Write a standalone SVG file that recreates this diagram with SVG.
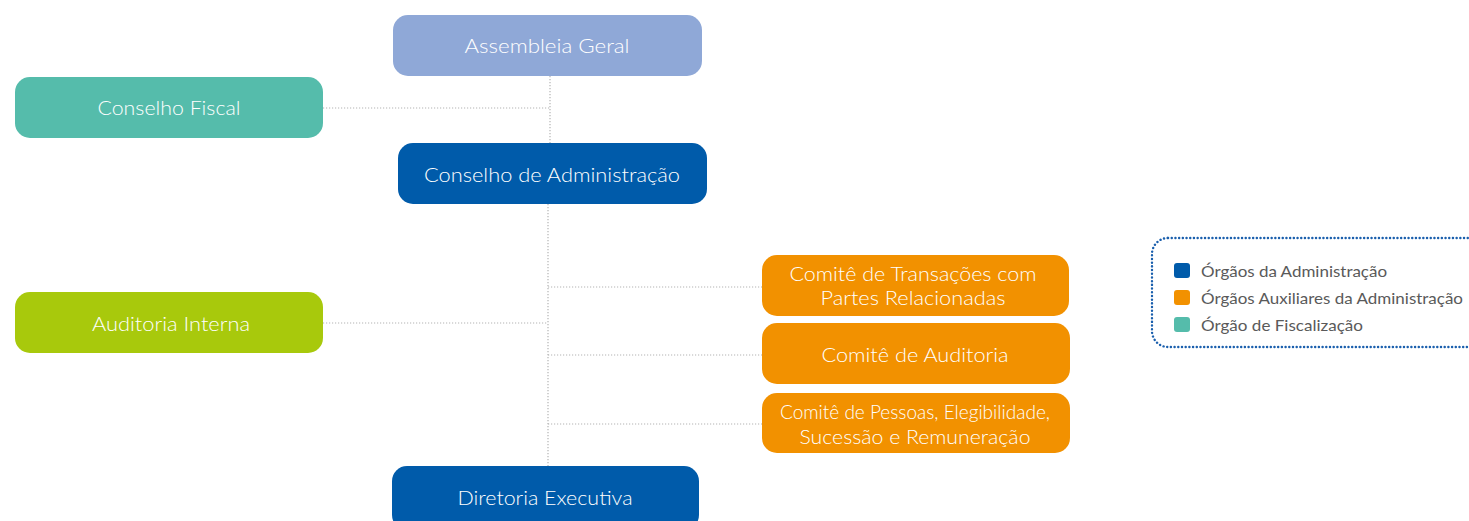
<svg xmlns="http://www.w3.org/2000/svg" width="1469" height="521" viewBox="0 0 1469 521">
<style>
.box text{font-family:Lato,"Noto Sans",sans-serif;font-size:20px;font-weight:300;fill:#fff;text-anchor:middle}
.conn line{stroke:#b3b3b3;stroke-width:1.2;stroke-dasharray:1.2 1.8}
.leg{font-family:Lato,"Noto Sans",sans-serif;font-size:15px;font-weight:400;fill:#5a5a5a}
</style>
<rect width="1469" height="521" fill="#fff"/>
<g class="conn">
<line x1="550" y1="76" x2="550" y2="143"/>
<line x1="323" y1="108" x2="550" y2="108"/>
<line x1="548" y1="204" x2="548" y2="466"/>
<line x1="323" y1="323" x2="548" y2="323"/>
<line x1="548" y1="287" x2="762" y2="287"/>
<line x1="548" y1="355" x2="762" y2="355"/>
<line x1="548" y1="424" x2="762" y2="424"/>
</g>
<g id="assembleia" class="box"><rect x="393" y="15" width="309" height="61" rx="15" fill="#8FA8D7"/><text x="547" y="53" textLength="165" lengthAdjust="spacingAndGlyphs">Assembleia Geral</text></g>
<g id="conselho-fiscal" class="box"><rect x="15" y="77" width="308" height="61" rx="15" fill="#55BCAB"/><text x="169" y="115" textLength="143" lengthAdjust="spacingAndGlyphs">Conselho Fiscal</text></g>
<g id="conselho-adm" class="box"><rect x="398" y="143" width="309" height="61" rx="15" fill="#005BAA"/><text x="552" y="182" textLength="256" lengthAdjust="spacingAndGlyphs">Conselho de Administração</text></g>
<g id="auditoria-interna" class="box"><rect x="15" y="292" width="308" height="61" rx="15" fill="#A8C90C"/><text x="171" y="331" textLength="158" lengthAdjust="spacingAndGlyphs">Auditoria Interna</text></g>
<g id="comite-transacoes" class="box"><rect x="762" y="255" width="307" height="61" rx="15" fill="#F29100"/><text x="913" y="281" textLength="247" lengthAdjust="spacingAndGlyphs">Comitê de Transações com</text><text x="913" y="305" textLength="185" lengthAdjust="spacingAndGlyphs">Partes Relacionadas</text></g>
<g id="comite-auditoria" class="box"><rect x="762" y="323" width="308" height="61" rx="15" fill="#F29100"/><text x="915" y="362" textLength="187" lengthAdjust="spacingAndGlyphs">Comitê de Auditoria</text></g>
<g id="comite-pessoas" class="box"><rect x="762" y="393" width="308" height="60" rx="15" fill="#F29100"/><text x="915" y="419" textLength="270" lengthAdjust="spacingAndGlyphs">Comitê de Pessoas, Elegibilidade,</text><text x="915" y="444" textLength="231" lengthAdjust="spacingAndGlyphs">Sucessão e Remuneração</text></g>
<g id="diretoria" class="box"><rect x="392" y="466" width="307" height="64" rx="15" fill="#005BAA"/><text x="545" y="505" textLength="175" lengthAdjust="spacingAndGlyphs">Diretoria Executiva</text></g>
<g id="legenda">
<rect x="1152" y="238" width="340" height="109" rx="16" fill="none" stroke="#1A5FAD" stroke-width="2.4" stroke-linecap="round" stroke-dasharray="0.1 3.6"/>
<rect x="1174" y="263" width="16" height="15" rx="3" fill="#005BAA"/>
<rect x="1174" y="290" width="16" height="15" rx="3" fill="#F29100"/>
<rect x="1174" y="317" width="16" height="15" rx="3" fill="#55BCAB"/>
<text class="leg" x="1201" y="277" textLength="186" lengthAdjust="spacingAndGlyphs">Órgãos da Administração</text>
<text class="leg" x="1201" y="304" textLength="262" lengthAdjust="spacingAndGlyphs">Órgãos Auxiliares da Administração</text>
<text class="leg" x="1201" y="331" textLength="162" lengthAdjust="spacingAndGlyphs">Órgão de Fiscalização</text>
</g>
</svg>
